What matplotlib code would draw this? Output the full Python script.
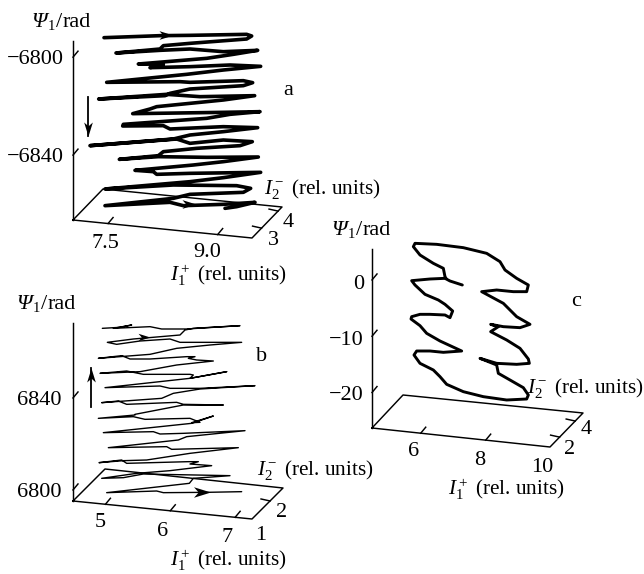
import numpy as np
import matplotlib
matplotlib.use("Agg")
import matplotlib.pyplot as plt
from matplotlib.markers import MarkerStyle
from matplotlib.path import Path
from matplotlib.transforms import Affine2D

plt.rcParams.update({
    "font.family": "Liberation Serif",
    "mathtext.fontset": "custom",
    "mathtext.rm": "Liberation Serif",
    "mathtext.it": "Liberation Serif:italic",
    "mathtext.bf": "Liberation Serif:bold",
})

# Traces, as (x, y) in 3x-enlarged crop pixels
trace_a_upper = [(42,38),(210,32),(300,31),(470,28),(485,33),(470,42),(300,55),(220,62),(210,72),(78,84),(210,76),(300,72),(400,80),
                 (503,76),(430,88),(350,100),(145,117),(220,118),(180,128),(300,125),(420,120),(512,124),(400,135),(290,148),(50,172),
                 (270,170),(300,172),(460,167),(488,173),(460,182),(300,192),(240,205),(225,212),(26,222),(230,208),(330,215),(494,212),
                 (400,225),(200,245),(180,252),(128,266),(400,262),(510,260),(420,268),(350,280),(100,298)]
trace_a_lower = [(98,33),(220,32),(240,42),(400,35),(503,38),(400,50),(300,60),(250,72),(0,92),(260,72),(300,85),(400,75),(487,80),
                 (450,92),(320,100),(220,110),(205,122),(88,133),(205,125),(350,127),(505,126),(400,140),(310,150),(135,166),(190,170),
                 (200,178),(300,175),(512,172),(400,188),(300,200),(45,222),(250,210),(440,212),(482,220),(460,232),(300,238),(250,250),
                 (45,272),(240,262),(280,272),(400,268),(495,262),(440,275),(405,280)]
trace_b_upper = [(37,40),(90,37),(125,30),(70,40),(180,35),(215,42),(290,42),(450,32),(310,40),(285,45),(270,60),(130,72),(52,82),
                 (80,88),(150,78),(240,72),(270,82),(455,82),(360,90),(260,100),(180,118),(25,130),(95,122),(120,132),(180,132),
                 (290,125),(315,125),(295,130),(320,135),(370,138),(260,150),(150,170),(30,175),(110,168),(160,178),(300,178),(310,180),
                 (300,190),(410,170),(300,190),(45,218),(210,213),(240,220),(330,220),(495,212),(330,222),(250,235),(215,250),(35,263),
                 (85,258),(110,268),(260,262),(280,268),(400,270),(280,270),(135,298)]
trace_b_lower = [(135,15),(25,25),(130,20),(165,28),(300,25),(330,37),(305,38),(370,18),(305,40),(40,68),(190,65),(210,72),(280,70),
                 (465,62),(290,80),(265,90),(55,113),(230,110),(245,118),(445,113),(300,130),(170,150),(100,152),(27,158),(95,150),
                 (110,160),(295,155),(325,155),(300,162),(365,167),(240,182),(140,190),(35,205),(100,203),(160,192),(420,197),(310,205),
                 (298,220),(50,248),(200,243),(220,248),(350,247),(455,245)]
trace_c_start = [(187,150),(150,138),(135,130),(90,132),(35,137),(45,150),(75,178),(115,195),(135,208),(158,228),(150,248),(135,240),
                 (90,238),(60,238),(35,245)]
trace_c_lower = [(33,12),(60,32),(80,55),(120,78),(185,108),(130,112),(90,108),(50,108),(42,120),(60,145),(100,165),(120,185),(140,208),
                 (190,230),(250,245),(320,255),(380,252),(385,240),(370,218),(330,195),(295,175),(290,150),(240,130),(290,145),(350,148),
                 (388,145),(385,132),(360,100),(320,75),(272,50),(295,35),(272,28),(310,35),(360,38),(390,28)]
trace_c_upper = [(350,245),(310,205),(245,170),(290,165),(340,170),(380,170),(385,150),(350,130),(315,105),(300,80),(260,55),(190,38),
                 (110,28),(45,25),(40,35),(60,60),(100,85),(130,100),(135,125),(138,130)]

psi_ticks_a = [-6800, -6840]
i1_ticks_a = [7.5, 9.0]
i2_ticks_a = [3, 4]
psi_ticks_b = [6840, 6800]
i1_ticks_b = [5, 6, 7]
i2_ticks_b = [2]
psi_ticks_c = [0, -10, -20]
i1_ticks_c = [6, 8]
i2_ticks_c = [2, 4]

fig = plt.figure(figsize=(6.44, 5.74), dpi=100)
ax = fig.add_axes([0, 0, 1, 1])
ax.set_xlim(0, 644)
ax.set_ylim(574, 0)
ax.axis("off")
FS = 16
FS_AXIS = 15.3
LW = 1.05


def box(o, f, r, b, top, psi_lim, i1_lim, i2_lim, psi_t, i1_t, i2_t):
    o, f, r, b = map(np.array, (o, f, r, b))
    ax.plot([o[0], o[0]], [o[1], top], color="k", lw=LW)
    ax.plot(*zip(o, f, r, b, o), color="k", lw=LW)
    for v in psi_t:
        y = np.interp(v, psi_lim, [o[1], top])
        ax.plot([o[0], o[0] + 5], [y, y - 6], color="k", lw=LW)
    for v in i1_t:
        p = o + (f - o) * (v - i1_lim[0]) / (i1_lim[1] - i1_lim[0])
        ax.plot([p[0], p[0] + 5], [p[1], p[1] - 6], color="k", lw=LW)
    for v in i2_t:
        p = f + (r - f) * (v - i2_lim[0]) / (i2_lim[1] - i2_lim[0])
        ax.plot([p[0], p[0] - 9], [p[1], p[1] - 2], color="k", lw=LW)


def crop(points, x0, y0):
    return np.array(points, dtype=float) / 3 + (x0, y0)


def trace(points, lw):
    ax.plot(points[:, 0], points[:, 1], color="k", lw=lw,
            solid_joinstyle="round", solid_capstyle="round")


STEALTH = Path([(1, 0), (-1, 0.62), (-0.45, 0), (-1, -0.62), (1, 0)],
               [Path.MOVETO, Path.LINETO, Path.LINETO, Path.LINETO, Path.CLOSEPOLY])


def head(x, y, angle, size=14):
    ux, uy = np.cos(np.radians(angle)), -np.sin(np.radians(angle))
    m = MarkerStyle(STEALTH, transform=Affine2D().rotate_deg(angle))
    ax.plot([x - ux * size / 2], [y - uy * size / 2], marker=m, ms=size * 0.72, color="k", mew=0)


def varrow(x, y0, y1):
    ax.plot([x, x], [y0, y1], color="k", lw=1.3)
    head(x, y1, 90 if y1 < y0 else -90)


def label(x, y, s, ha="center", fs=FS, va="center_baseline", **kw):
    ax.text(x, y, s, ha=ha, va=va, fontsize=fs, color="k", **kw)


def psi_label(x, y):
    label(x, y, "\u03a8", ha="left", va="baseline", style="italic")
    label(x + 16.5, y + 3.5, "1", ha="left", va="baseline", fs=10.5)
    label(x + 25, y, "/", ha="left", va="baseline")
    label(x + 31.5, y, "rad", ha="left", va="baseline")


I1 = r"$\mathit{I}_1^+$ (rel. units)"
I2 = r"$\mathit{I}_2^-$ (rel. units)"
M = "\u2212"

# panel a
box((73, 220), (252, 238), (282, 207), (103, 189), 41, (-6866.5, -6793.4), (7.02, 9.47), (2.42, 4.24),
    psi_ticks_a, i1_ticks_a, i2_ticks_a)
trace(np.vstack([crop(trace_a_upper, 90, 25), crop(trace_a_lower, 90, 115)]), 2.6)
head(173, 35, 0)
head(196, 204, 0)
varrow(88, 97, 136)
for v in psi_ticks_a:
    label(64, np.interp(v, (-6866.5, -6793.4), (220, 41)), M + str(abs(v)), ha="right")
for v, x, y in zip(i1_ticks_a, [105, 207], [241, 250]):
    label(x, y, f"{v:.1f}")
for v, x, y in zip(i2_ticks_a, [273, 288], [238, 220]):
    label(x, y, str(v))
psi_label(31, 27)
label(288, 88, "a")
label(264, 194, I2, ha="left", va="baseline", fs=FS_AXIS)
label(170, 281, I1, ha="left", va="baseline", fs=FS_AXIS)

# panel b
box((73, 501), (252, 519), (283, 488), (105, 469), 323, (6795.2, 6872.6), (4.5, 7.26), (1, 2.72),
    psi_ticks_b, i1_ticks_b, i2_ticks_b)
trace(np.vstack([crop(trace_b_upper, 90, 315), crop(trace_b_lower, 90, 410)]), 1.0)
head(150, 337, 0, 12)
head(211, 492, 0, 17)
varrow(91, 407, 368)
for v in psi_ticks_b:
    label(62, np.interp(v, (6795.2, 6872.6), (501, 323)), str(v), ha="right")
for v, x, y in zip(i1_ticks_b, [100, 163, 227], [520, 529, 535]):
    label(x, y, str(v))
for v, x, y in zip([1, 2], [261, 282], [533, 510]):
    label(x, y, str(v))
psi_label(16, 309)
label(262, 354, "b")
label(257, 475, I2, ha="left", va="baseline", fs=FS_AXIS)
label(170, 566, I1, ha="left", va="baseline", fs=FS_AXIS)

# panel c
box((372, 428), (550, 447), (583, 413), (403, 395), 249, (-26.3, 5.5), (4.5, 9.98), (0.77, 5.0),
    psi_ticks_c, i1_ticks_c, i2_ticks_c)
trace(np.vstack([crop(trace_c_start, 400, 235), crop(trace_c_lower, 400, 315), crop(trace_c_upper, 400, 235)]), 2.1)
for v, y in zip(psi_ticks_c, [282, 338, 393]):
    label(364, y, str(v) if v == 0 else M + str(abs(v)), ha="right")
for v, x, y in zip([6, 8, 10], [414, 480, 542], [449, 458, 465]):
    label(x, y, str(v))
for v, x, y in zip(i2_ticks_c, [570, 586], [447, 427]):
    label(x, y, str(v))
psi_label(331, 235)
label(576, 299, "c")
label(527, 393, I2, ha="left", va="baseline", fs=FS_AXIS)
label(448, 495, I1, ha="left", va="baseline", fs=FS_AXIS)

fig.savefig("out.png", dpi=100)
